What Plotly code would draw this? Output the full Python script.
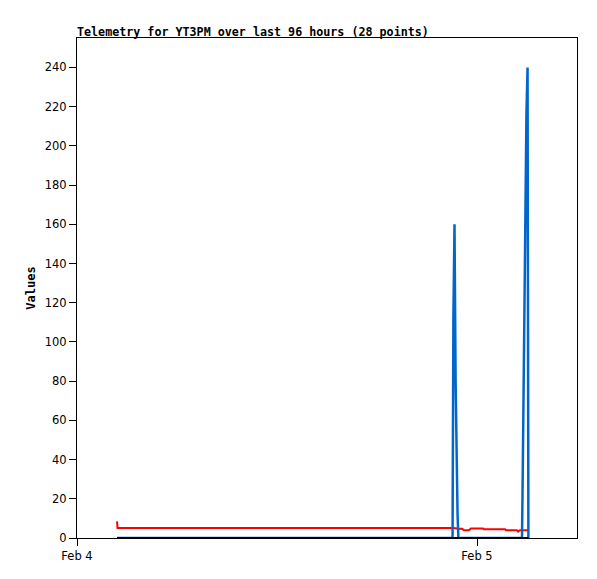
import plotly.graph_objects as go

# Timestamps of the telemetry samples
times = [
    "2024-02-04 02:24", "2024-02-04 02:26", "2024-02-04 22:32", "2024-02-04 22:35",
    "2024-02-04 22:39", "2024-02-04 22:43", "2024-02-04 22:46", "2024-02-04 22:50",
    "2024-02-04 22:53", "2024-02-04 23:06", "2024-02-04 23:13", "2024-02-04 23:31",
    "2024-02-04 23:38", "2024-02-05 00:22", "2024-02-05 00:25", "2024-02-05 01:41",
    "2024-02-05 01:44", "2024-02-05 02:24", "2024-02-05 02:28", "2024-02-05 02:35",
    "2024-02-05 02:42", "2024-02-05 02:44", "2024-02-05 02:47", "2024-02-05 02:51",
    "2024-02-05 02:55", "2024-02-05 02:58", "2024-02-05 03:02", "2024-02-05 03:05",
]

blue_values = [0, 0, 0, 112, 160, 80, 36, 12, 0, 0, 0, 0, 0, 0, 0, 0,
               0, 0, 0, 0, 0, 24, 72, 120, 168, 216, 240, 0]
red_values = [8.5, 5.1, 5.1, 5.1, 5.1, 5.0, 5.0, 4.8, 4.7, 4.7, 4.0, 4.0,
              4.9, 4.9, 4.4, 4.4, 4.0, 4.0, 3.3, 4.0, 4.0, 4.0, 4.0, 4.0,
              4.0, 4.0, 4.0, 4.0]
black_values = [0] * 28

x_tick_vals = ["2024-02-04 00:00", "2024-02-05 00:00"]
x_tick_text = ["Feb 4", "Feb 5"]
y_tick_vals = [0, 20, 40, 60, 80, 100, 120, 140, 160, 180, 200, 220, 240]

fig = go.Figure()
fig.add_trace(go.Scatter(x=times, y=red_values, mode="lines",
                         line=dict(color="#FF0000", width=2), hoverinfo="x+y"))
fig.add_trace(go.Scatter(x=times, y=blue_values, mode="lines",
                         line=dict(color="#0066CC", width=2.5), hoverinfo="x+y"))
fig.add_trace(go.Scatter(x=times, y=black_values, mode="lines",
                         line=dict(color="#000000", width=2), hoverinfo="x+y"))

# page body has an 8px default margin, so the figure is offset by 8px
fig.update_layout(
    width=589, height=571,
    margin=dict(l=69, r=20, t=30, b=41),
    paper_bgcolor="white", plot_bgcolor="white",
    showlegend=False,
    title=dict(text="<b>Telemetry for YT3PM over last 96 hours (28 points)</b>",
               font=dict(family="DejaVu Sans Mono", size=11.7, color="black"),
               xref="paper", x=0, xanchor="left",
               yref="container", y=1 - 24 / 571, yanchor="middle"),
    font=dict(family="DejaVu Sans", size=11, color="black"),
)
fig.update_xaxes(
    type="date", range=["2024-02-04 00:00", "2024-02-05 06:00"],
    tickmode="array", tickvals=x_tick_vals, ticktext=x_tick_text,
    ticks="outside", ticklen=7, tickcolor="black", tickwidth=1,
    showline=True, linecolor="black", linewidth=1, mirror=True,
    showgrid=False, zeroline=False,
    tickfont=dict(family="DejaVu Sans", size=11.5, color="black"),
)
fig.update_yaxes(
    range=[0, 255], tickmode="array", tickvals=y_tick_vals,
    ticks="outside", ticklen=7, tickcolor="black", tickwidth=1,
    showline=True, linecolor="black", linewidth=1, mirror=True,
    showgrid=False, zeroline=False,
    tickfont=dict(family="DejaVu Sans", size=11.5, color="black"),
    title=dict(text="<b>Values</b>", standoff=6,
               font=dict(family="DejaVu Sans Mono", size=12, color="black")),
)

fig.write_html("out.html")
